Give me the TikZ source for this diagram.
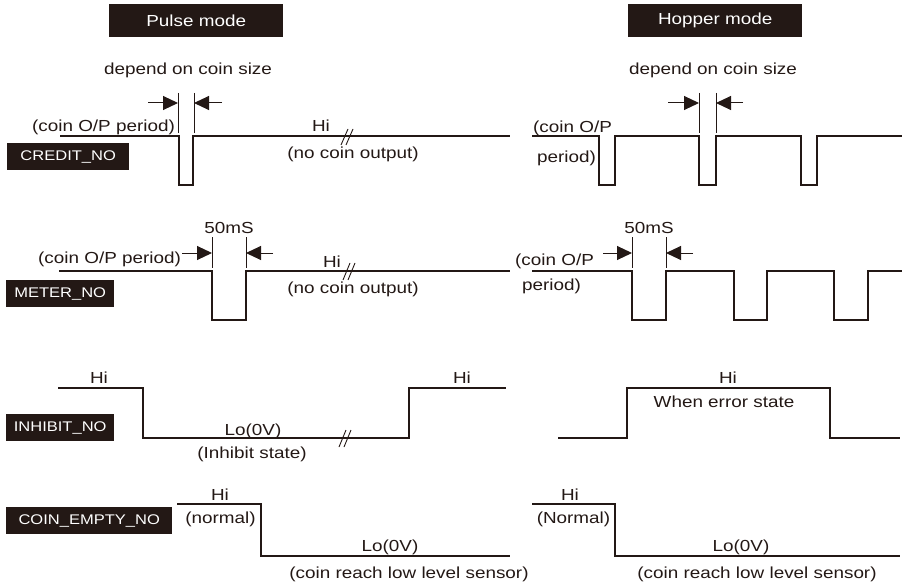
\documentclass[tikz,border=0pt]{standalone}
\usepackage{fontspec}
\setmainfont{Liberation Sans}[FakeStretch=1.18]
\usetikzlibrary{arrows.meta}
\definecolor{ink}{RGB}{35,24,21}
\begin{document}
\begin{tikzpicture}[x=1pt,y=-1pt,
  sig/.style={line width=2.2pt, draw=ink, line join=miter},
  thinln/.style={line width=1pt, draw=ink},
  dim/.style={line width=1pt, draw=ink, -{Triangle[length=15pt,width=14pt]}},
  txt/.style={text=ink, font=\fontsize{16}{16}\selectfont, inner sep=0pt, anchor=base},
  txtw/.style={txt, anchor=base west},
  lbl/.style={fill=ink, text=white, font=\fontsize{14}{14}\selectfont, inner sep=0pt, anchor=north west, minimum height=27pt},
  hdr/.style={fill=ink, text=white, font=\fontsize{16}{16}\selectfont, inner sep=0pt, anchor=north west, minimum width=174pt, minimum height=33pt},
  brk/.style={line width=0.9pt, draw=ink}
]
\useasboundingbox (0,0) rectangle (905,583);

% headers
\node[hdr] (pulse) at (109,4) {Pulse mode};
\node[hdr] (hopper) at (628,4) {Hopper mode};

% signal labels
\node[lbl, minimum width=122pt] (credit) at (7,143) {CREDIT\_NO};
\node[lbl, minimum width=108pt] (meter) at (6,280) {METER\_NO};
\node[lbl, minimum width=108pt] (inhibit) at (6,414) {INHIBIT\_NO};
\node[lbl, minimum width=166pt] (empty) at (6,507) {COIN\_EMPTY\_NO};

% ===== CREDIT_NO pulse mode
\draw[sig] (60,136) -- (179,136) -- (179,185) -- (193,185) -- (193,136) -- (510,136);
\coordinate (c1a) at (178,93); \coordinate (c1b) at (178,133);
\coordinate (c2a) at (194,93); \coordinate (c2b) at (194,133);
\draw[thinln] (c1a) -- (c1b);
\draw[thinln] (c2a) -- (c2b);
\coordinate (ca1) at (148,103); \coordinate (ca2) at (178,103);
\coordinate (cb1) at (222,103); \coordinate (cb2) at (194,103);
\draw[dim] (ca1) -- (ca2);
\draw[dim] (cb1) -- (cb2);
\node[txt] (dep1) at (188,75) {depend on coin size};
\node[txt] (cp1) at (103.5,132) {(coin O/P period)};
\node[txt] (hi1) at (321,132) {Hi};
\node[txt] (nco1) at (353,159) {(no coin output)};
\draw[brk] (341,145) -- (348,129);
\draw[brk] (346,145) -- (353,129);

% ===== CREDIT_NO hopper mode
\draw[sig] (532,136) -- (599,136) -- (599,185) -- (615,185) -- (615,136)
  -- (699,136) -- (699,185) -- (716,185) -- (716,136)
  -- (801,136) -- (801,185) -- (817,185) -- (817,136) -- (902,136);
\coordinate (h1a) at (699,93); \coordinate (h1b) at (699,133);
\coordinate (h2a) at (716,93); \coordinate (h2b) at (716,133);
\draw[thinln] (h1a) -- (h1b);
\draw[thinln] (h2a) -- (h2b);
\coordinate (ha1) at (668,103); \coordinate (ha2) at (699,103);
\coordinate (hb1) at (743,103); \coordinate (hb2) at (716,103);
\draw[dim] (ha1) -- (ha2);
\draw[dim] (hb1) -- (hb2);
\node[txt] (dep2) at (713,75) {depend on coin size};
\node[txtw] (cp2a) at (533,133) {(coin O/P};
\node[txtw] (cp2b) at (537,163) {period)};

% ===== METER_NO pulse mode
\draw[sig] (59,271) -- (212,271) -- (212,320) -- (246,320) -- (246,271) -- (510,271);
\coordinate (m1a) at (212,237); \coordinate (m1b) at (212,268);
\coordinate (m2a) at (246,237); \coordinate (m2b) at (246,268);
\draw[thinln] (m1a) -- (m1b);
\draw[thinln] (m2a) -- (m2b);
\coordinate (ma1) at (182,253); \coordinate (ma2) at (212,253);
\coordinate (mb1) at (273,253); \coordinate (mb2) at (246,253);
\draw[dim] (ma1) -- (ma2);
\draw[dim] (mb1) -- (mb2);
\node[txt] (ms1) at (229,233) {50mS};
\node[txtw] (mp1) at (38,263) {(coin O/P period)};
\node[txt] (hi2) at (332,267) {Hi};
\node[txt] (nco2) at (353,293) {(no coin output)};
\draw[brk] (343,280) -- (350,263);
\draw[brk] (348,280) -- (355,263);

% ===== METER_NO hopper mode
\draw[sig] (532,271) -- (632,271) -- (632,320) -- (666,320) -- (666,271)
  -- (734,271) -- (734,320) -- (767,320) -- (767,271)
  -- (834,271) -- (834,320) -- (868,320) -- (868,271) -- (902,271);
\coordinate (n1a) at (632,237); \coordinate (n1b) at (632,268);
\coordinate (n2a) at (666,237); \coordinate (n2b) at (666,268);
\draw[thinln] (n1a) -- (n1b);
\draw[thinln] (n2a) -- (n2b);
\coordinate (na1) at (603,253); \coordinate (na2) at (632,253);
\coordinate (nb1) at (693,253); \coordinate (nb2) at (666,253);
\draw[dim] (na1) -- (na2);
\draw[dim] (nb1) -- (nb2);
\node[txt] (ms2) at (649,233) {50mS};
\node[txtw] (mp2a) at (515,265) {(coin O/P};
\node[txtw] (mp2b) at (522,290) {period)};

% ===== INHIBIT_NO pulse mode
\draw[sig] (58,388) -- (143,388) -- (143,438) -- (409,438) -- (409,388) -- (506,388);
\node[txt] (hi3) at (99,383) {Hi};
\node[txt] (hi4) at (462,383) {Hi};
\node[txt] (lo1) at (253,435) {Lo(0V)};
\node[txt] (inh) at (252,458) {(Inhibit state)};
\draw[brk] (339,447) -- (346,430);
\draw[brk] (344,447) -- (351,430);

% ===== INHIBIT_NO hopper mode
\draw[sig] (558,438) -- (627,438) -- (627,388) -- (830,388) -- (830,438) -- (900,438);
\node[txt] (hi5) at (728,383) {Hi};
\node[txt] (err) at (724,407) {When error state};

% ===== COIN_EMPTY_NO pulse mode
\draw[sig] (177,504) -- (261,504) -- (261,556) -- (510,556);
\node[txt] (hi6) at (220,500) {Hi};
\node[txt] (nor1) at (220.5,523) {(normal)};
\node[txt] (lo2) at (390,551) {Lo(0V)};
\node[txt] (low1) at (409,578) {(coin reach low level sensor)};

% ===== COIN_EMPTY_NO hopper mode
\draw[sig] (532,504) -- (615,504) -- (615,556) -- (900,556);
\node[txt] (hi7) at (570,500) {Hi};
\node[txt] (nor2) at (573.5,523) {(Normal)};
\node[txt] (lo3) at (741,551) {Lo(0V)};
\node[txt] (low2) at (757,578) {(coin reach low level sensor)};
\end{tikzpicture}
\end{document}
